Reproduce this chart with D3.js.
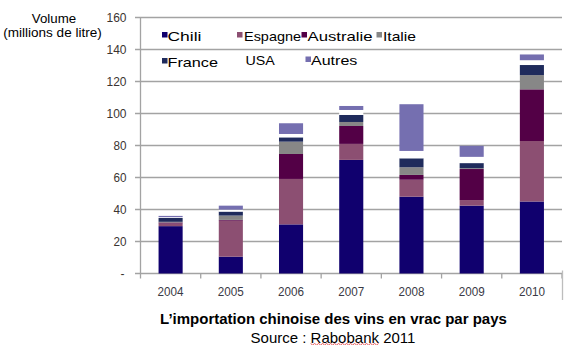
<!DOCTYPE html>
<html><head><meta charset="utf-8">
<script src="https://cdn.jsdelivr.net/npm/d3@7"></script>
<style>
body{margin:0;background:#fff}
svg{display:block}
text{font-family:"Liberation Sans",Arial,Helvetica,sans-serif}
</style>
</head><body>
<svg id="c" width="571" height="345"></svg>
<script>
// ---- data ----
const years = ["2004","2005","2006","2007","2008","2009","2010"];
const chili     = [29.6, 10.5, 30.7, 71.0, 48.0, 42.4, 45.0];
const espagne   = [ 1.6, 22.5, 28.4, 10.0, 10.6,  3.5, 37.8];
const australie = [ 0.7,  0.5, 15.6, 11.2,  3.0, 19.4, 32.3];
const italie    = [ 0.4,  2.7,  7.7,  2.5,  4.8,  0.5,  8.9];
const france    = [ 2.4,  2.5,  2.7,  4.4,  5.6,  3.2,  6.3];
const usa       = [ 0.5,  1.2,  2.1,  3.1,  4.6,  3.9,  3.0];
const autres    = [ 0.8,  2.5,  6.7,  2.5, 29.2,  6.9,  3.6];
const seriesNames = ["Chili","Espagne","Australie","Italie","France","USA","Autres"];
const seriesValues = [chili, espagne, australie, italie, france, usa, autres];
const yTickValues = [0,20,40,60,80,100,120,140,160];
const yTickLabels = ["-","20","40","60","80","100","120","140","160"];
const yAxisTitle = ["Volume","(millions de litre)"];
const chartTitle = "L\u2019importation chinoise des vins en vrac par pays";
const sourceText = ["Source : ","Rabobank"," 2011"];

// ---- styles ----
const colors = {Chili:"#10006e",Espagne:"#8c4f72",Australie:"#530046",Italie:"#878787",France:"#1f2b5c",USA:"#ffffff",Autres:"#756fb0"};

const svg = d3.select("#c");
const x = d3.scaleBand().domain(years).range([140.5, 562]).paddingInner(0.6).paddingOuter(0.3);
const y = d3.scaleLinear().domain([0,160]).range([273.5, 17.5]);

// gridlines
svg.append("g").selectAll("line").data(yTickValues.filter(v=>v>0)).join("line")
  .attr("x1",135).attr("x2",562).attr("y1",d=>y(d)).attr("y2",d=>y(d))
  .attr("stroke","#a3a3a3").attr("stroke-width",1.3);

// y axis line + zero tick
svg.append("line").attr("x1",140.5).attr("x2",140.5).attr("y1",y(160)).attr("y2",y(0))
  .attr("stroke","#a3a3a3").attr("stroke-width",1.3);
svg.append("line").attr("x1",135).attr("x2",562).attr("y1",y(0)).attr("y2",y(0))
  .attr("stroke","#a3a3a3").attr("stroke-width",1.3);

// y tick labels
svg.append("g").selectAll("text").data(yTickValues).join("text")
  .attr("x",(d,i)=> i===0 ? 124.5 : 126.5)
  .attr("y",d=>y(d)+4)
  .attr("text-anchor","end")
  .attr("font-size",12).attr("fill","#3b3431")
  .attr("textLength",(d,i)=> i===0 ? null : (yTickLabels[i].length===3?20:13))
  .attr("lengthAdjust","spacingAndGlyphs")
  .text((d,i)=>yTickLabels[i]);

// x axis ticks at band boundaries
const step = x.step();
const edges = years.map(yr=>x(yr) - x.paddingInner()*step/2 + 0*0);
const bounds = years.map((yr,i)=> x.range()[0] + i*step + (x.paddingOuter()-x.paddingInner()/2)*step*0);
const tickXs = d3.range(years.length+1).map(i=> x.range()[0] + i*(x.range()[1]-x.range()[0])/years.length);
svg.append("g").selectAll("line").data(tickXs).join("line")
  .attr("x1",d=>d).attr("x2",d=>d).attr("y1",y(0)).attr("y2",y(0)+5)
  .attr("stroke","#a3a3a3").attr("stroke-width",1.3);
// right frame line
svg.append("line").attr("x1",562.5).attr("x2",562.5).attr("y1",y(0)-3).attr("y2",300)
  .attr("stroke","#bdbdbd").attr("stroke-width",1.3);

// x labels
svg.append("g").selectAll("text").data(years).join("text")
  .attr("x",d=>x(d)+x.bandwidth()/2).attr("y",296)
  .attr("text-anchor","middle").attr("font-size",12).attr("fill","#3a3a45")
  .attr("textLength",26).attr("lengthAdjust","spacingAndGlyphs")
  .text(d=>d);

// stacked bars
const table = years.map((yr,i)=>{const o={year:yr}; seriesNames.forEach((s,j)=>o[s]=seriesValues[j][i]); return o;});
const stack = d3.stack().keys(seriesNames)(table);
svg.append("g").selectAll("g").data(stack).join("g")
  .attr("fill",d=>colors[d.key])
  .selectAll("rect").data(d=>d).join("rect")
  .attr("x",d=>x(d.data.year)).attr("width",x.bandwidth())
  .attr("y",d=>y(d[1])).attr("height",d=>y(d[0])-y(d[1]));

// legend
const legend = [
  {name:"Chili",sx:162,tx:167.5,by:40.5,w:34},
  {name:"Espagne",sx:237,tx:244,by:40.5,w:57},
  {name:"Australie",sx:301.5,tx:307.5,by:40.5,w:65},
  {name:"Italie",sx:376.5,tx:383,by:40.5,w:33},
  {name:"France",sx:162,tx:167.5,by:66.5,w:50.5},
  {name:"USA",sx:null,tx:245.5,by:65,w:29.3},
  {name:"Autres",sx:305.5,tx:311,by:65,w:46.3}
];
const lg = svg.append("g");
legend.forEach(l=>{
  if(l.sx!==null) lg.append("rect").attr("x",l.sx).attr("y",l.by-8.5).attr("width",5.5).attr("height",5.5).attr("fill",colors[l.name]);
  lg.append("text").attr("x",l.tx).attr("y",l.by).attr("font-size",13).attr("fill","#000")
    .attr("textLength",l.w).attr("lengthAdjust","spacingAndGlyphs").text(l.name);
});

// y axis title
svg.append("text").attr("x",54).attr("y",23.3).attr("text-anchor","middle").attr("font-size",13)
  .attr("textLength",44.3).attr("lengthAdjust","spacingAndGlyphs").text(yAxisTitle[0]);
svg.append("text").attr("x",52.5).attr("y",37.3).attr("text-anchor","middle").attr("font-size",13)
  .attr("textLength",98.4).attr("lengthAdjust","spacingAndGlyphs").text(yAxisTitle[1]);

// title & source
svg.append("text").attr("x",333.5).attr("y",324.3).attr("text-anchor","middle")
  .attr("font-size",15).attr("font-weight","bold").text(chartTitle);
const src = svg.append("text").attr("x",333).attr("y",342.5).attr("text-anchor","middle").attr("font-size",15);
src.text(sourceText.join(""));
// spell-check squiggle under "Rabobank"
const node = src.node();
const s0 = node.getStartPositionOfChar(sourceText[0].length).x;
const s1 = node.getEndPositionOfChar(sourceText[0].length+sourceText[1].length-1).x;
const pts = d3.range(s0, s1, 2).map((px,i)=>[px, 344 + (i%2?1:-0.5)]);
svg.append("path").attr("d",d3.line()(pts)).attr("fill","none").attr("stroke","#e03030").attr("stroke-width",0.8);
</script>
</body></html>
